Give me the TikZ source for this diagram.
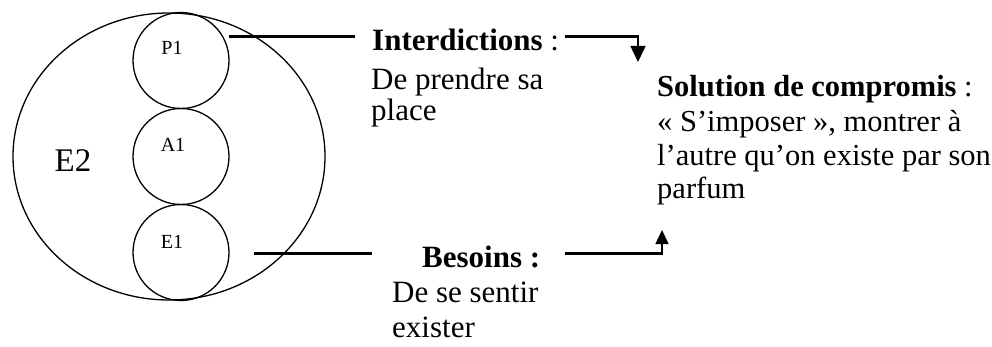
\documentclass[tikz,border=0pt]{standalone}
\usepackage{fontspec}
\setmainfont{Liberation Serif}
\usetikzlibrary{arrows.meta,shapes.geometric}
\begin{document}
\begin{tikzpicture}[x=1pt,y=-1pt,
  ring/.style={draw, line width=1.3pt, inner sep=0pt},
  ball/.style={ring, circle, minimum size=96pt},
  tag/.style={font=\fontsize{20}{24}\selectfont, anchor=base, inner sep=0pt},
  lbig/.style={font=\fontsize{31}{36}\selectfont, anchor=base west, inner sep=0pt},
  lsmall/.style={font=\fontsize{30.5}{35}\selectfont, anchor=base west, inner sep=0pt},
  link/.style={line width=3pt},
  drop/.style={line width=1.5pt, -{Triangle[length=16pt,width=15pt]}},
  rise/.style={line width=1.5pt, -{Triangle[length=14pt,width=13pt]}}]
\useasboundingbox (0,0) rectangle (992,347);
\fill[white] (0,0) rectangle (992,347);

% outer ellipse and the three stacked circles
\node[ring, ellipse, minimum width=312pt, minimum height=287pt] (e2) at (169,156.5) {};
\node[ball] (p1) at (181,60.5) {};
\node[ball] (a1) at (181,156.5) {};
\node[ball] (e1) at (181,252.5) {};
\node[font=\fontsize{33}{38}\selectfont, anchor=base, inner sep=0pt] (e2lab) at (73,172) {E2};
\node[tag] (p1lab) at (172,55) {P1};
\node[tag] (a1lab) at (173,152) {A1};
\node[tag] (e1lab) at (172,248) {E1};

% upper text block
\node[lbig] (intd) at (372,51) {\textbf{Interdictions} :};
\node[lbig] (intd2) at (371,90) {De prendre sa};
\node[lbig] (intd3) at (371,121) {place};

% lower text block
\node[lbig] (bes) at (422,267) {\textbf{Besoins :}};
\node[lbig] (bes2) at (392,302) {De se sentir};
\node[lbig] (bes3) at (392,337) {exister};

% compromise block
\node[lsmall] (sol) at (657,97) {\textbf{Solution de compromis} :};
\node[lsmall] (sol2) at (657,132) {«~S’imposer~», montrer à};
\node[lsmall] (sol3) at (657,166) {l’autre qu’on existe par son};
\node[lsmall] (sol4) at (657,199) {parfum};

% connector ends
\coordinate (p1out) at (229,37);
\coordinate (intdin) at (355,37);
\coordinate (intdout) at (565,37);
\coordinate (topbend) at (638,37);
\coordinate (toptip) at (638,62);
\coordinate (e1out) at (254,253);
\coordinate (besin) at (372,253);
\coordinate (besout) at (565,253);
\coordinate (lowbend) at (662,253);
\coordinate (lowtip) at (662,230);

\draw[link] (p1out) -- (intdin);
\draw[link] (intdout) -- ([xshift=0.75pt]topbend);
\draw[drop] (topbend) -- (toptip);
\draw[link] (e1out) -- (besin);
\draw[link] (besout) -- ([xshift=0.75pt]lowbend);
\draw[rise] (lowbend) -- (lowtip);
\end{tikzpicture}
\end{document}
